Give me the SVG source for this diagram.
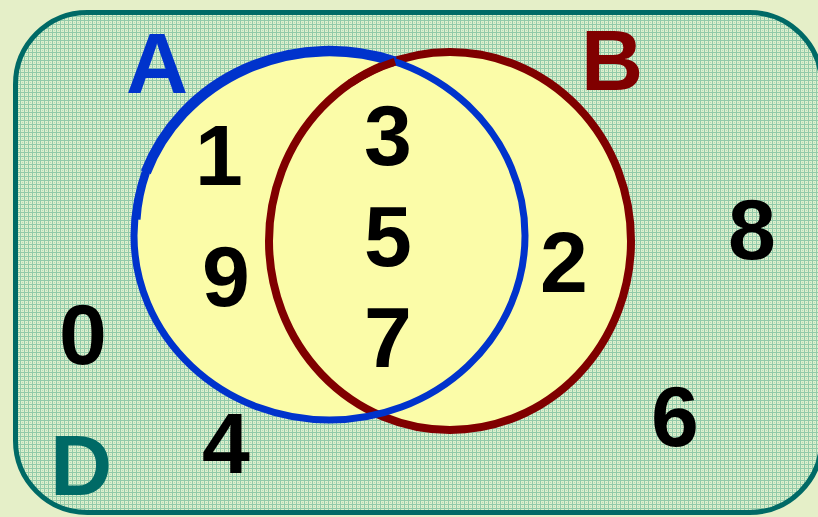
<svg xmlns="http://www.w3.org/2000/svg" width="818" height="517" viewBox="0 0 818 517">
<defs>
<pattern id="grid" width="4" height="4" patternUnits="userSpaceOnUse">
<rect width="4" height="4" fill="#dcefcc"/>
<rect x="0" y="0" width="4" height="1" fill="#92caa9"/>
<rect x="0" y="0" width="1" height="4" fill="#92caa9"/>
<rect x="2" y="2" width="1" height="1" fill="#b4dbb8"/>
</pattern>
<style>
.num{font-family:"Liberation Sans",Arial,sans-serif;font-weight:bold;font-size:86px;text-anchor:middle;fill:#000}
.lbl{font-family:"Liberation Sans",Arial,sans-serif;font-weight:bold;font-size:86px;text-anchor:middle}
</style>
</defs>
<rect width="818" height="517" fill="#e5efc8"/>
<g id="universe">
<rect x="15.5" y="12.5" width="806" height="500" rx="72" ry="72" fill="url(#grid)" stroke="#006a66" stroke-width="5"/>
<text class="lbl" x="81" y="495" fill="#006a66">D</text>
</g>
<g id="setB-fill"><ellipse cx="450" cy="241" rx="181" ry="189" fill="#fbfca8"/></g>
<g id="setA-fill"><ellipse cx="329.5" cy="235.5" rx="195.5" ry="184.5" fill="#fbfca8"/></g>
<g id="setB">
<ellipse cx="450" cy="241" rx="181" ry="189" fill="none" stroke="#800000" stroke-width="8"/>
<text class="lbl" x="612" y="90" fill="#800000">B</text>
</g>
<g id="setA">
<ellipse cx="329.5" cy="235.5" rx="195.5" ry="184.5" fill="none" stroke="#0033cc" stroke-width="7"/>
<path d="M 136.3 219.4 A 195.5 184.5 0 0 1 145.8 172.4" fill="none" stroke="#0033cc" stroke-width="8.5"/>
<path d="M 145.8 172.4 A 195.5 184.5 0 0 1 395 61.7" fill="none" stroke="#0033cc" stroke-width="10.5"/>
<text class="lbl" x="157" y="93" fill="#0033cc">A</text>
</g>
<g id="connectors">
<path d="M 395 61.7 A 181 189 0 0 0 350.4 83.2" fill="none" stroke="#800000" stroke-width="8"/>
</g>
<g id="elements">
<text class="num" x="219" y="185">1</text>
<text class="num" x="226" y="306">9</text>
<text class="num" x="388" y="165">3</text>
<text class="num" x="388" y="266">5</text>
<text class="num" x="388" y="367">7</text>
<text class="num" x="564" y="292">2</text>
<text class="num" x="83" y="364">0</text>
<text class="num" x="226" y="473">4</text>
<text class="num" x="752" y="259">8</text>
<text class="num" x="675" y="446">6</text>
</g>
</svg>
